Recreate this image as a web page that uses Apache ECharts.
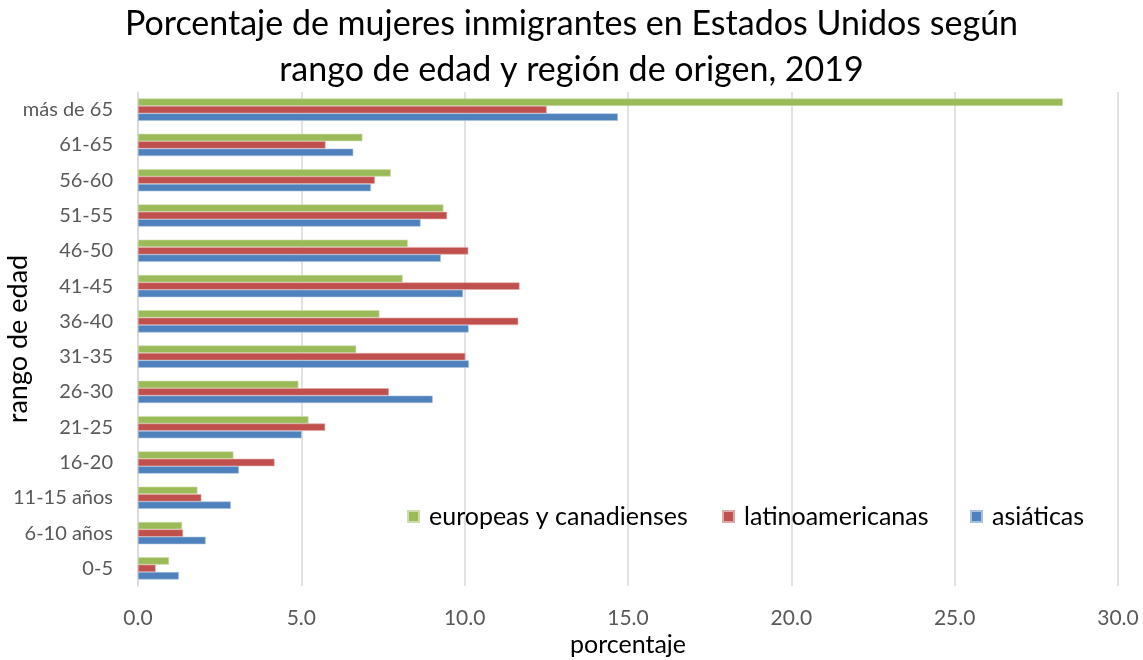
<!DOCTYPE html>
<html>
<head>
<meta charset="utf-8">
<script src="https://cdn.jsdelivr.net/npm/echarts@6/dist/echarts.min.js"></script>
<style>
  html, body { margin: 0; padding: 0; background: #fff; }
  #chart { width: 1143px; height: 660px; }
</style>
</head>
<body>
<div id="chart"></div>
<script>
// Age ranges, listed bottom to top as the category axis runs
const categories = ['0-5', '6-10 años', '11-15 años', '16-20', '21-25', '26-30', '31-35',
  '36-40', '41-45', '46-50', '51-55', '56-60', '61-65', 'más de 65'];

// Share of immigrant women in each age range (%)
const europeas = [0.95, 1.35, 1.82, 2.92, 5.22, 4.91, 6.68, 7.39, 8.10, 8.26, 9.35, 7.74, 6.87, 28.31];
const latinoamericanas = [0.54, 1.38, 1.94, 4.18, 5.73, 7.68, 10.02, 11.64, 11.68, 10.11, 9.46, 7.25, 5.74, 12.51];
const asiaticas = [1.25, 2.07, 2.84, 3.09, 5.01, 9.02, 10.13, 10.12, 9.95, 9.27, 8.65, 7.13, 6.59, 14.69];

// Series run top to bottom inside each age group
const seriesNames = ['europeas y canadienses', 'latinoamericanas', 'asiáticas'];
const seriesData = [europeas, latinoamericanas, asiaticas];
const colors = ['#9BBB59', '#C0504D', '#4F81BD'];
const borders = ['#CDDDAC', '#E0A8A6', '#A7C0DE'];

const FONT = 'Lato, "Open Sans", sans-serif';

const chart = echarts.init(document.getElementById('chart'));

function legendAt(name, left) {
  return {
    data: [name],
    left: left,
    top: 504,
    orient: 'horizontal',
    padding: 0,
    itemWidth: 11,
    itemHeight: 11,
    icon: 'rect',
    textStyle: { fontFamily: FONT, fontSize: 25, color: '#000', padding: [0, 0, 0, 5] }
  };
}

chart.setOption({
  animation: false,
  backgroundColor: '#fff',
  title: {
    text: 'Porcentaje de mujeres inmigrantes en Estados Unidos según\nrango de edad y región de origen, 2019',
    left: 'center',
    top: -4,
    textStyle: { fontFamily: FONT, fontSize: 34, fontWeight: 'normal', color: '#000', lineHeight: 46 }
  },
  legend: [
    legendAt('europeas y canadienses', 407),
    legendAt('latinoamericanas', 722),
    legendAt('asiáticas', 970)
  ],
  grid: { left: 138, right: 25, top: 92, bottom: 74, containLabel: false, outerBoundsMode: 'none' },
  xAxis: {
    type: 'value',
    min: 0,
    max: 30,
    interval: 5,
    name: 'porcentaje',
    nameLocation: 'middle',
    nameGap: 46,
    nameMoveOverlap: false,
    nameTextStyle: { fontFamily: FONT, fontSize: 25, color: '#000' },
    axisLine: { show: false },
    axisTick: { show: false },
    axisLabel: {
      margin: 22,
      fontFamily: FONT,
      fontSize: 21,
      color: '#595959',
      formatter: v => v.toFixed(1)
    },
    splitLine: { show: true, lineStyle: { color: '#D9D9D9', width: 1.5 } }
  },
  yAxis: {
    type: 'category',
    data: categories,
    name: 'rango de edad',
    nameLocation: 'middle',
    nameRotate: 90,
    nameGap: 106,
    nameMoveOverlap: false,
    nameTextStyle: { fontFamily: FONT, fontSize: 27, color: '#000' },
    axisLine: { show: true, lineStyle: { color: '#D9D9D9', width: 1.5 } },
    axisTick: { show: false },
    axisLabel: { margin: 25, fontFamily: FONT, fontSize: 20, color: '#595959' },
    splitLine: { show: false }
  },
  series: seriesData.map((d, i) => ({
    name: seriesNames[i],
    type: 'bar',
    data: d,
    barGap: '0%',
    barCategoryGap: '37%',
    itemStyle: { color: colors[i], borderColor: borders[i], borderWidth: 0.6 }
  }))
});
</script>
</body>
</html>
